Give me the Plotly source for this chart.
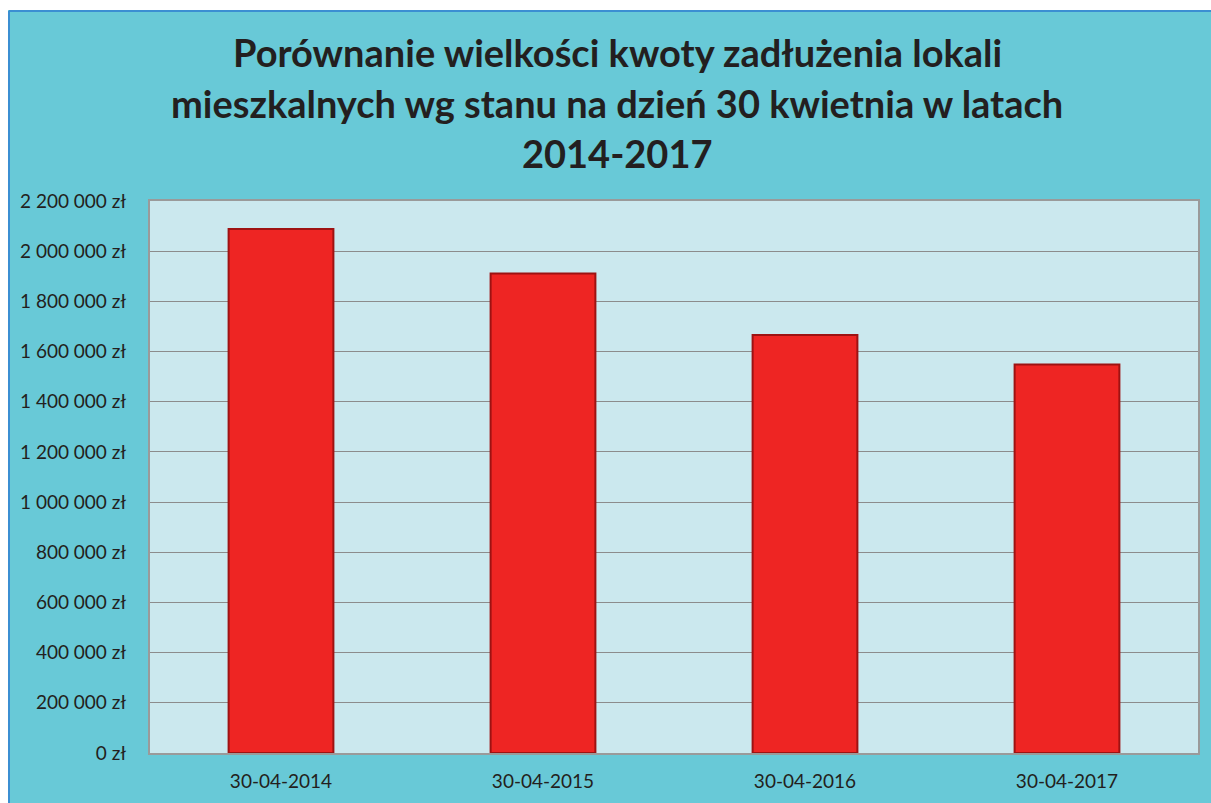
import plotly.graph_objects as go

categories = ["30-04-2014", "30-04-2015", "30-04-2016", "30-04-2017"]
values = [2088000, 1911000, 1666000, 1548000]
tick_vals = [0, 200000, 400000, 600000, 800000, 1000000, 1200000, 1400000,
             1600000, 1800000, 2000000, 2200000]
tick_text = ["0 zł", "200 000 zł", "400 000 zł", "600 000 zł", "800 000 zł",
             "1 000 000 zł", "1 200 000 zł", "1 400 000 zł", "1 600 000 zł",
             "1 800 000 zł", "2 000 000 zł", "2 200 000 zł"]
title_lines = ["Porównanie wielkości kwoty zadłużenia lokali",
               "mieszkalnych wg stanu na dzień 30 kwietnia w latach",
               "2014-2017"]

W, H = 1211, 803
L, R, T, B = 150, 13, 201, 50
pw, ph = W - L - R, H - T - B

def px_x(x):
    return (x - L) / pw

def px_y(y):
    return (H - B - y) / ph

fig = go.Figure()
fig.add_trace(go.Bar(
    x=categories, y=values, width=0.4,
    marker=dict(color="#ee2523", line=dict(color="#9e1212", width=2)),
))

# white page margin above and left of the teal panel
fig.add_shape(type="rect", xref="paper", yref="paper", layer="below",
              x0=px_x(-5), x1=px_x(1220), y0=px_y(10), y1=px_y(-5),
              fillcolor="white", line=dict(width=0))
fig.add_shape(type="rect", xref="paper", yref="paper", layer="below",
              x0=px_x(-5), x1=px_x(8), y0=px_y(810), y1=px_y(-5),
              fillcolor="white", line=dict(width=0))
# blue border of panel
fig.add_shape(type="line", xref="paper", yref="paper", layer="below",
              x0=px_x(9), x1=px_x(1215), y0=px_y(11), y1=px_y(11),
              line=dict(color="#3b8fd2", width=2))
fig.add_shape(type="line", xref="paper", yref="paper", layer="below",
              x0=px_x(9), x1=px_x(9), y0=px_y(11), y1=px_y(810),
              line=dict(color="#3b8fd2", width=2))

for t, y in zip(title_lines, [52, 103, 153]):
    fig.add_annotation(text="<b>" + t + "</b>", xref="paper", yref="paper",
                       x=px_x(617), y=px_y(y), showarrow=False,
                       xanchor="center", yanchor="middle",
                       font=dict(family="Lato", size=38, color="#231f20"))

fig.update_layout(
    width=W, height=H,
    margin=dict(l=L, r=R, t=T, b=B, pad=0),
    paper_bgcolor="#68c9d7",
    plot_bgcolor="#cbe8ee",
    showlegend=False,
    font=dict(family="Lato", size=19, color="#231f20"),
    bargap=0.6,
)
fig.update_yaxes(range=[0, 2200000], tickvals=tick_vals, ticktext=tick_text,
                 showgrid=True, gridcolor="#8c8c8c", gridwidth=1,
                 showline=True, linecolor="#9a9a9a", linewidth=2, mirror=True,
                 zeroline=False, ticks="", ticklabelstandoff=18,
                 tickfont=dict(family="Lato", size=19, color="#231f20"))
fig.update_xaxes(showline=True, linecolor="#9a9a9a", linewidth=2, mirror=True,
                 ticks="", ticklabelstandoff=10,
                 tickfont=dict(family="Lato", size=19, color="#231f20"))

fig.write_html("out.html")
